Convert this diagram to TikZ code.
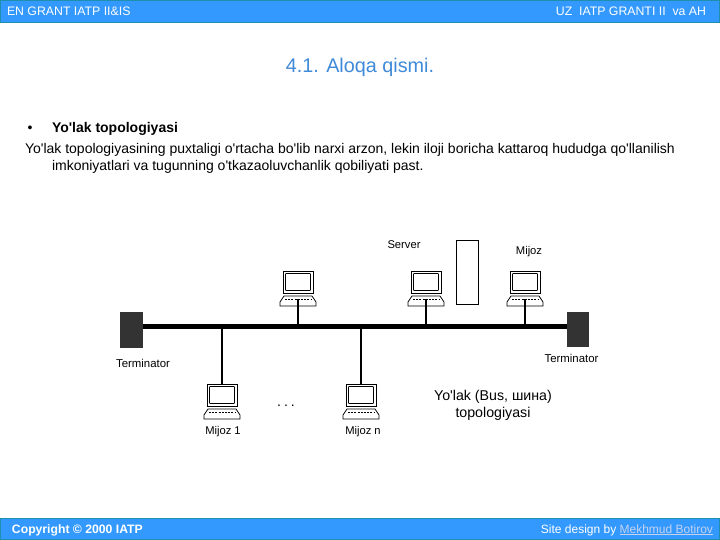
\documentclass[tikz,border=0pt]{standalone}
\usepackage{fontspec}
\setmainfont[Ligatures=TeXOff]{Liberation Sans}
\definecolor{bandblue}{HTML}{3399FF}
\definecolor{bandedge}{HTML}{1F8FB0}
\definecolor{titleblue}{HTML}{3F8AD8}
\definecolor{termgray}{HTML}{333333}
\definecolor{linkblue}{HTML}{C4D2F0}
\newcommand{\fsz}[1]{\fontsize{#1}{#1}\selectfont}
\tikzset{
  band/.style={fill=bandblue,draw=bandedge,line width=0.8pt},
  screenbox/.style={draw=black,fill=white,line width=0.8pt,minimum width=30pt,minimum height=22pt,inner sep=0pt,outer sep=0pt},
  screeninner/.style={draw=black,line width=0.6pt,rounded corners=0.5pt},
  kbd/.style={draw=black,fill=white,line width=0.8pt},
  kbddash/.style={draw=black,line width=0.8pt,dash pattern=on 2pt off 1.2pt},
  terminator/.style={fill=termgray,draw=none,inner sep=0pt,outer sep=0pt},
  busline/.style={line width=5.4pt,draw=black},
  droplink/.style={line width=2pt,draw=black},
  serverbox/.style={draw=black,fill=white,line width=0.8pt,inner sep=0pt,minimum width=22pt,minimum height=64pt},
  lbl/.style={inner sep=0pt,outer sep=0pt,text=black},
  hdr/.style={inner sep=0pt,outer sep=0pt,text=white,font=\fsz{12.3}},
}
% name, centre x, screen-top y
\newcommand{\laptop}[3]{%
  \node[screenbox,anchor=north] (#1) at (#2,#3) {};
  \draw[screeninner] ([shift={(2.5,2.5)}]#1.north west) rectangle ([shift={(-2.5,-2.5)}]#1.south east);
  \draw[kbd] (#2-14,#3+25) -- (#2+14,#3+25) -- (#2+18,#3+31) -- (#2+18,#3+35) -- (#2-18,#3+35) -- (#2-18,#3+31) -- cycle;
  \draw[kbddash] (#2-13,#3+28.5) -- (#2+13,#3+28.5);
  \coordinate (#1k) at (#2,#3+28);
}
\begin{document}
\begin{tikzpicture}[x=1pt,y=-1pt]
\useasboundingbox (0,0) rectangle (720,540);
\fill[white] (0,0) rectangle (720,540);
% header and footer bands
\draw[band] (0.4,0.4) rectangle (719.6,22.4);
\draw[band] (0.4,518.4) rectangle (719.6,539.6);
\node[hdr,anchor=west] (hl) at (7,11) {EN GRANT IATP II\&IS};
\node[hdr,anchor=east] (hr) at (706,11) {UZ\ \ IATP GRANTI II\ \ va AH};
\node[lbl,anchor=west,text=white,font=\fsz{12.2}\bfseries] (fl) at (12,530) {Copyright © 2000 IATP};
\node[lbl,anchor=east,text=white,font=\fsz{12}] (fr) at (713,530) {Site design by \textcolor{linkblue}{\underline{Mekhmud Botirov}}};
% title and text
\node[lbl,text=titleblue,font=\fsz{19.8}] (title) at (360,67) {4.1. Aloqa qismi.};
\node[lbl,anchor=center,font=\fsz{14}] (bul) at (30,129) {•};
\node[lbl,anchor=west,font=\fsz{14}\bfseries] (h1) at (52,128.5) {Yo'lak topologiyasi};
\node[lbl,anchor=west,font=\fsz{14}] (t1) at (25,150) {Yo'lak topologiyasining puxtaligi o'rtacha bo'lib narxi arzon, lekin iloji boricha kattaroq hududga qo'llanilish};
\node[lbl,anchor=west,font=\fsz{14}] (t2) at (52,166.5) {imkoniyatlari va tugunning o'tkazaoluvchanlik qobiliyati past.};
% bus
\node[terminator,minimum width=23pt,minimum height=36pt] (tl) at (131.5,330) {};
\node[terminator,minimum width=22pt,minimum height=35pt] (tr) at (578,329.5) {};
\coordinate (bl) at (tl.east |- 0,326.5);
\coordinate (br) at (tr.west |- 0,326.5);
\draw[busline] (bl) -- (br);
% server
\node[serverbox] (srv) at (467,272) {};
% laptops
\laptop{a}{298}{271}
\laptop{b}{426}{271}
\laptop{c}{525}{271}
\laptop{d}{222}{384}
\laptop{e}{361}{384}
% drops
\draw[droplink] (ak) -- (ak |- bl);
\draw[droplink] (bk) -- (bk |- bl);
\draw[droplink] (ck) -- (ck |- bl);
\draw[droplink] (d.north) -- (d.north |- bl);
\draw[droplink] (e.north) -- (e.north |- bl);
% labels
\node[lbl,font=\fsz{11.2}] (ls) at (404,244.5) {Server};
\node[lbl,font=\fsz{11.2}] (lm) at (529,251.5) {Mijoz};
\node[lbl,font=\fsz{11.4}] (lt1) at (143,363.5) {Terminator};
\node[lbl,font=\fsz{11.4}] (lt2) at (571.5,358.5) {Terminator};
\node[lbl,font=\fsz{11.2}] (l1) at (223,431.5) {Mijoz 1};
\node[lbl,font=\fsz{11.2}] (ln) at (363,431.5) {Mijoz n};
\node[lbl,font=\fsz{14},anchor=base] (dots) at (286,406.5) {.\kern3pt.\kern3pt.};
\node[lbl,font=\fsz{14.2}] (b1) at (493,396.5) {Yo'lak (Bus, шина)};
\node[lbl,font=\fsz{14.2}] (b2) at (493,413.5) {topologiyasi};
\end{tikzpicture}
\end{document}
